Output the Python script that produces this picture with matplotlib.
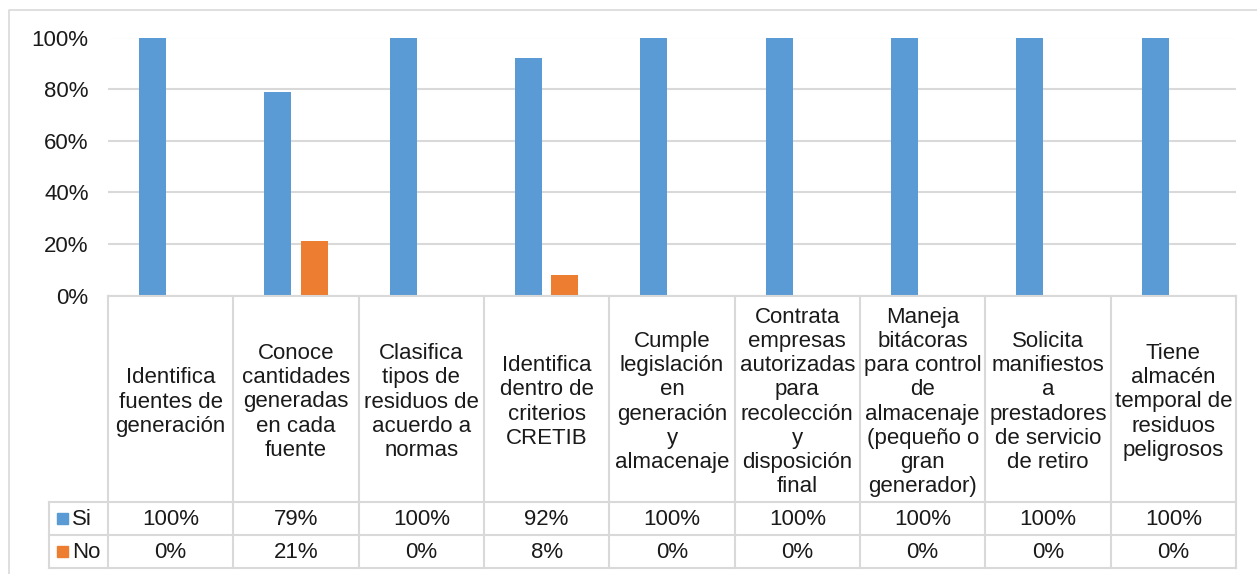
import numpy as np
import matplotlib.pyplot as plt
import matplotlib.ticker as mticker

plt.rcParams['font.family'] = ['Liberation Sans', 'DejaVu Sans']

# Data
categories = [
    "Identifica\nfuentes de\ngeneración",
    "Conoce\ncantidades\ngeneradas\nen cada\nfuente",
    "Clasifica\ntipos de\nresiduos de\nacuerdo a\nnormas",
    "Identifica\ndentro de\ncriterios\nCRETIB",
    "Cumple\nlegislación\nen\ngeneración\ny\nalmacenaje",
    "Contrata\nempresas\nautorizadas\npara\nrecolección\ny\ndisposición\nfinal",
    "Maneja\nbitácoras\npara control\nde\nalmacenaje\n(pequeño o\ngran\ngenerador)",
    "Solicita\nmanifiestos\na\nprestadores\nde servicio\nde retiro",
    "Tiene\nalmacén\ntemporal de\nresiduos\npeligrosos",
]
si = [100, 79, 100, 92, 100, 100, 100, 100, 100]
no = [0, 21, 0, 8, 0, 0, 0, 0, 0]
series_names = ["Si", "No"]

blue = "#5B9BD5"
orange = "#ED7D31"
grid = "#D9D9D9"
txt = "#1a1a1a"
fs = 16
W, H = 1257, 574

fig = plt.figure(figsize=(W / 100, H / 100), dpi=100)

# outer chart border
border = fig.add_axes([0, 0, 1, 1])
border.set_xlim(0, W)
border.set_ylim(H, 0)
border.axis("off")
border.plot([9, 9, W], [H, 10, 10], color=grid, lw=1.2)

# bars
x0, x1 = 108, 1236
ytop, ybot = 37.5, 295.5
ax = fig.add_axes([x0 / W, 1 - ybot / H, (x1 - x0) / W, (ybot - ytop) / H])
n = len(categories)
x = np.arange(n)
bw = 0.215
ax.bar(x - 0.145, np.array(si) / 100, bw, color=blue)
ax.bar(x + 0.145, np.array(no) / 100, bw, color=orange)
ax.set_xlim(-0.5, n - 0.5)
ax.set_ylim(0, 1)
ax.yaxis.set_major_locator(mticker.MultipleLocator(0.2))
ax.yaxis.set_major_formatter(mticker.PercentFormatter(1.0, decimals=0))
ax.yaxis.grid(True, color=grid, lw=1.5)
ax.set_axisbelow(True)
for s in ["top", "right", "left"]:
    ax.spines[s].set_visible(False)
ax.spines["bottom"].set_color(grid)
ax.spines["bottom"].set_linewidth(1.5)
ax.tick_params(axis="y", length=0, labelsize=fs, pad=14, labelcolor=txt)
ax.tick_params(axis="x", length=0, labelbottom=False)

# data table (pixel coordinates)
tb = fig.add_axes([0, 0, 1, 1])
tb.set_xlim(0, W)
tb.set_ylim(H, 0)
tb.axis("off")
colw = (x1 - x0) / n
r0, r1, r2, r3 = 295.5, 502, 535, 567.5
legx = 49
tc = dict(color=grid, lw=1.5)
for i in range(n + 1):
    xx = x0 + i * colw
    tb.plot([xx, xx], [r0, r3], **tc)
tb.plot([legx, legx], [r1, r3], **tc)
for yy in [r1, r2, r3]:
    tb.plot([legx, x1], [yy, yy], **tc)

for i, lab in enumerate(categories):
    cx = x0 + (i + 0.5) * colw
    tb.text(cx, 402, lab, ha="center", va="center",
            fontsize=fs, linespacing=1.2, color=txt)
    tb.text(cx, (r1 + r2) / 2 + 1, f"{si[i]}%", ha="center", va="center",
            fontsize=fs, color=txt)
    tb.text(cx, (r2 + r3) / 2 + 1, f"{no[i]}%", ha="center", va="center",
            fontsize=fs, color=txt)

for (yc, name, col) in [((r1 + r2) / 2, series_names[0], blue),
                        ((r2 + r3) / 2, series_names[1], orange)]:
    tb.add_patch(plt.Rectangle((57, yc - 5.5), 11, 11, color=col))
    tb.text(72, yc + 1, name, ha="left", va="center", fontsize=fs,
            color=txt)

fig.savefig("out.png", dpi=100)
